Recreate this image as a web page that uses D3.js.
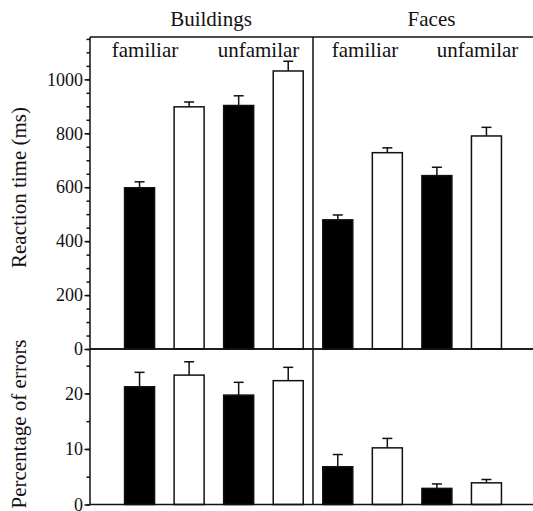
<!DOCTYPE html>
<html>
<head>
<meta charset="utf-8">
<script src="https://cdn.jsdelivr.net/npm/d3@7"></script>
<style>
  html, body { margin: 0; padding: 0; background: #fff; }
  svg { display: block; }
</style>
</head>
<body>
<svg id="chart" width="533" height="511"></svg>
<script>
// Stimulus panels and familiarity groups
const panels = ["Buildings", "Faces"];
const groups = ["familiar", "unfamilar"];
// Bar fill per condition within each group (filled, open)
const fills = ["#000", "#fff"];

// Reaction time (ms): mean and standard error, in panel/group/condition order
const rtMean = [598, 898, 903, 1031, 479, 728, 643, 790];
const rtErr  = [22, 18, 36, 36, 18, 18, 31, 32];

// Percentage of errors: mean and standard error
const errMean = [21.2, 23.3, 19.7, 22.3, 6.8, 10.2, 2.9, 3.9];
const errErr  = [2.6, 2.4, 2.3, 2.4, 2.2, 1.7, 0.8, 0.6];

// Axis tick values
const rtMajor = [0, 200, 400, 600, 800, 1000];
const rtMinor = d3.range(0, 1151, 50);
const errMajor = [0, 10, 20];
const errMinor = d3.range(0, 26, 5);

const serif = "Liberation Serif";
const svg = d3.select("#chart");
const ink = "#111";
const lw = 1.5;

// Shared horizontal layout: eight bars at equal spacing
const x = d3.scaleLinear().domain([-1, 8]).range([90, 536]);
const barW = 30;
const divider = x(3.5);

const yRT = d3.scaleLinear().domain([0, 1157]).range([349, 37]);
const yErr = d3.scaleLinear().domain([0, 28]).range([504.5, 349]);

function drawPanel(y, means, errs, major, minor) {
  const g = svg.append("g");
  const idx = d3.range(means.length);

  // bars
  g.selectAll("rect.bar").data(idx).join("rect")
    .attr("class", "bar")
    .attr("x", i => x(i) - barW / 2)
    .attr("y", i => y(means[i]))
    .attr("width", barW)
    .attr("height", i => y(0) - y(means[i]))
    .attr("fill", i => fills[i % 2])
    .attr("stroke", ink)
    .attr("stroke-width", lw);

  // upward error bars with caps
  g.selectAll("line.err").data(idx).join("line")
    .attr("class", "err")
    .attr("x1", i => x(i)).attr("x2", i => x(i))
    .attr("y1", i => y(means[i])).attr("y2", i => y(means[i] + errs[i]))
    .attr("stroke", ink).attr("stroke-width", lw);
  g.selectAll("line.cap").data(idx).join("line")
    .attr("class", "cap")
    .attr("x1", i => x(i) - 5).attr("x2", i => x(i) + 5)
    .attr("y1", i => y(means[i] + errs[i])).attr("y2", i => y(means[i] + errs[i]))
    .attr("stroke", ink).attr("stroke-width", lw);

  // left axis: minor ticks, then labelled major ticks
  const minorAxis = d3.axisLeft(y).tickValues(minor).tickSize(3.5).tickFormat("");
  const ax1 = g.append("g").attr("transform", `translate(${x(-1)},0)`).call(minorAxis);
  const majorAxis = d3.axisLeft(y).tickValues(major).tickSize(5.5).tickPadding(1.5)
    .tickFormat(d3.format("d"));
  const ax2 = g.append("g").attr("transform", `translate(${x(-1)},0)`).call(majorAxis);
  [ax1, ax2].forEach(a => {
    a.select(".domain").remove();
    a.selectAll(".tick line").attr("stroke", ink).attr("stroke-width", lw);
  });
  ax2.selectAll(".tick text")
    .attr("fill", ink)
    .attr("font-family", serif)
    .attr("font-size", 18);

  // panel frame lines
  const xs = [x(-1), x(8)];
  g.append("line").attr("x1", xs[0]).attr("x2", xs[1])
    .attr("y1", y.range()[1]).attr("y2", y.range()[1])
    .attr("stroke", ink).attr("stroke-width", lw);
  g.append("line").attr("x1", xs[0]).attr("x2", xs[1])
    .attr("y1", y(0)).attr("y2", y(0))
    .attr("stroke", ink).attr("stroke-width", lw);
  g.append("line").attr("x1", xs[0]).attr("x2", xs[0])
    .attr("y1", y.range()[1]).attr("y2", y(0))
    .attr("stroke", ink).attr("stroke-width", lw);
  g.append("line").attr("x1", divider).attr("x2", divider)
    .attr("y1", y.range()[1]).attr("y2", y(0))
    .attr("stroke", ink).attr("stroke-width", lw);
}

drawPanel(yRT, rtMean, rtErr, rtMajor, rtMinor);
drawPanel(yErr, errMean, errErr, errMajor, errMinor);

// Panel titles above the frame
const titleX = [211, 431.5];
svg.selectAll("text.title").data(panels).join("text")
  .attr("class", "title")
  .attr("x", (d, i) => titleX[i]).attr("y", 26)
  .attr("text-anchor", "middle")
  .attr("font-family", serif)
  .attr("font-size", 21).attr("fill", ink)
  .text(d => d);

// Group labels inside the top panel
const groupX = [145, 258.5, 365, 477.5];
svg.selectAll("text.group").data(d3.range(4)).join("text")
  .attr("class", "group")
  .attr("x", i => groupX[i]).attr("y", 56.5)
  .attr("text-anchor", "middle")
  .attr("font-family", serif)
  .attr("font-size", 21).attr("fill", ink)
  .text(i => groups[i % 2]);

// Y axis titles
const yTitles = [
  { text: "Reaction time (ms)", cy: 187.5 },
  { text: "Percentage of errors", cy: 424 }
];
svg.selectAll("text.ytitle").data(yTitles).join("text")
  .attr("class", "ytitle")
  .attr("transform", d => `translate(25.5,${d.cy}) rotate(-90)`)
  .attr("text-anchor", "middle")
  .attr("font-family", serif)
  .attr("font-size", 21).attr("fill", ink)
  .text(d => d.text);
</script>
</body>
</html>
